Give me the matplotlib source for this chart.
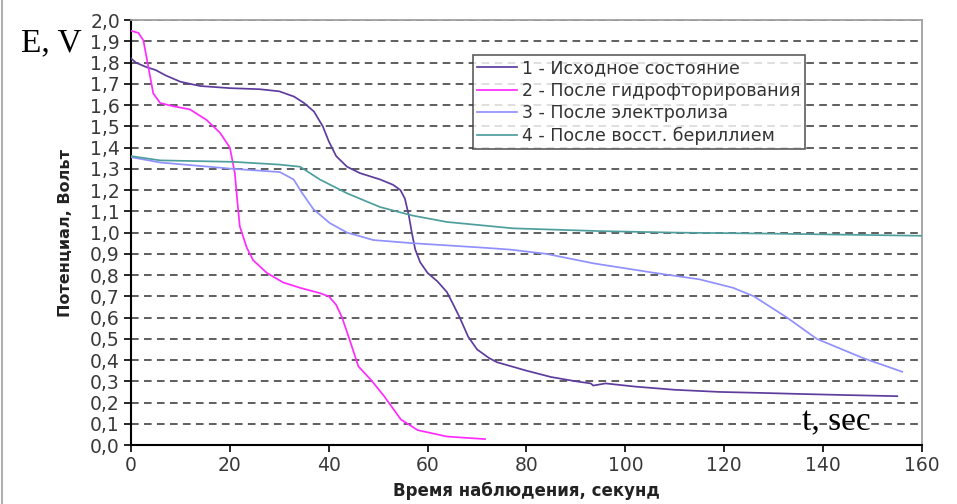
import matplotlib.pyplot as plt
from matplotlib.ticker import MultipleLocator, FuncFormatter
from matplotlib.lines import Line2D

# Discharge curves: time (s) and potential (V)
t1 = [0, 1, 3, 5, 7, 10, 14, 20, 26, 30, 33, 35, 37, 38.8, 40, 41.5, 43.7,
      46.3, 50.4, 53, 54.5, 55.4, 56.2, 56.8, 57.5, 58.5, 60, 62, 63.9, 65,
      66.5, 68.2, 70, 72.4, 74, 77, 80, 85, 90, 93, 93.5, 96, 102, 110, 119,
      128, 136, 145, 155]
v1 = [1.82, 1.80, 1.78, 1.765, 1.74, 1.71, 1.69, 1.68, 1.675, 1.665, 1.64,
      1.61, 1.57, 1.50, 1.43, 1.36, 1.31, 1.28, 1.25, 1.225, 1.20, 1.16,
      1.08, 1.00, 0.92, 0.86, 0.81, 0.77, 0.72, 0.67, 0.60, 0.51, 0.45, 0.41,
      0.39, 0.37, 0.35, 0.32, 0.30, 0.29, 0.28, 0.29, 0.275, 0.26, 0.25,
      0.245, 0.24, 0.235, 0.23]

t2 = [0, 1.5, 2.5, 3.5, 4.5, 5.9, 8.5, 11.9, 15.3, 18, 20, 21, 21.5, 22,
      23.4, 24.7, 27.5, 30.8, 34.2, 38.2, 40, 41.5, 42.7, 44.3, 46, 48.6,
      51.2, 54.6, 58, 63.9, 71.6]
v2 = [1.95, 1.94, 1.905, 1.78, 1.655, 1.61, 1.595, 1.58, 1.53, 1.47, 1.40,
      1.28, 1.15, 1.03, 0.93, 0.87, 0.81, 0.765, 0.74, 0.715, 0.70, 0.66,
      0.60, 0.49, 0.37, 0.305, 0.23, 0.12, 0.07, 0.04, 0.028]

t3 = [0, 5.9, 20.7, 30.1, 32.9, 34.5, 36.9, 40.2, 43.7, 49, 57, 70.6, 76.7,
      84, 93.6, 106, 115, 121.8, 126, 132.7, 138.7, 148, 156]
v3 = [1.355, 1.33, 1.30, 1.285, 1.25, 1.19, 1.11, 1.045, 1.00, 0.965, 0.95,
      0.93, 0.92, 0.90, 0.855, 0.81, 0.78, 0.74, 0.70, 0.60, 0.50, 0.41, 0.345]

t4 = [0, 5.9, 20.7, 30.1, 34.2, 38.2, 43.7, 50.4, 57, 63.9, 77.3, 94.9, 110,
      130, 160]
v4 = [1.36, 1.34, 1.333, 1.32, 1.31, 1.25, 1.185, 1.12, 1.08, 1.05, 1.02,
      1.007, 1.0, 0.995, 0.985]

labels = ["1 - Исходное состояние", "2 - После гидрофторирования",
          "3 - После электролиза", "4 - После восст. бериллием"]
colors = ["#5e3c9e", "#ff2bff", "#9090ff", "#4f9e9e"]

fig = plt.figure(figsize=(9.57, 5.04), dpi=100)
ax = fig.add_axes([0.1369, 0.117, 0.8265, 0.843])

for t, v, c, lab in zip([t1, t2, t3, t4], [v1, v2, v3, v4], colors, labels):
    ax.plot(t, v, color=c, lw=1.25, label=lab, zorder=3)

ax.set_xlim(0, 160)
ax.set_ylim(0, 2.0)
ax.xaxis.set_major_locator(MultipleLocator(20))
ax.yaxis.set_major_locator(MultipleLocator(0.1))
ax.yaxis.set_major_formatter(FuncFormatter(lambda y, p: f"{y:.1f}".replace(".", ",")))
ax.tick_params(direction="out", length=5, width=1.2, colors="black",
               labelcolor="#3a3a3a", labelsize=13.5, pad=3)
ax.grid(axis="y", color="#333333", ls=(0, (5, 3.5)), lw=1.1, zorder=1)

for s in ["left", "bottom"]:
    ax.spines[s].set_color("black")
    ax.spines[s].set_linewidth(1.5)
for s in ["top", "right"]:
    ax.spines[s].set_color("#a0a0a0")
    ax.spines[s].set_linewidth(1.3)

ax.set_xlabel("Время наблюдения, секунд", fontsize=12, fontweight="bold",
              color="#222222", labelpad=5)
ax.set_ylabel("Потенциал, Вольт", fontsize=11.5, fontweight="bold",
              color="#222222", labelpad=12)

leg = ax.legend(loc="upper left", bbox_to_anchor=(0.432, 0.918), fontsize=12.5,
                frameon=True, fancybox=False, handlelength=2.3,
                handletextpad=0.3, borderpad=0.25, labelspacing=0.25,
                borderaxespad=0)
leg.get_frame().set_edgecolor("#333333")
leg.get_frame().set_linewidth(1.2)
for txt in leg.get_texts():
    txt.set_color("#333333")

fig.text(0.022, 0.915, "E, V", fontsize=24, family="Liberation Serif",
         va="center", ha="left")
ax.text(135.7, 0.07, "t, sec", fontsize=24, family="Liberation Serif",
        va="baseline", ha="left", zorder=4)

# thin frame line on the left edge of the figure
fig.add_artist(Line2D([0.002, 0.002], [0, 1], transform=fig.transFigure,
                      color="#b0b0b0", lw=1.5))

fig.savefig("out.png", dpi=100)
